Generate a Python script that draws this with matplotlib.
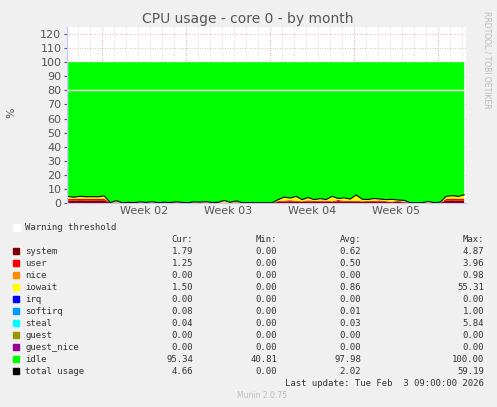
import numpy as np
import matplotlib
matplotlib.use("Agg")
import matplotlib.pyplot as plt

# data: one sample per half day, 0 .. 33 days
system = [1.8, 1.7, 1.9, 1.8, 1.7, 1.9, 1.8,
          0.1, 0.3, 0.1, 0.1, 0.2, 0.1, 0.1, 0.2, 0.1, 0.1, 0.2, 0.3, 0.1, 0.1,
          0.2, 0.1, 0.3, 0.2, 0.1, 0.2, 0.1, 0.3, 0.1, 0.2, 0.1, 0.1, 0.1, 0.1,
          0.8, 1.0, 1.2, 0.9, 0.7, 1.1, 0.8, 0.9, 1.0, 0.7, 1.3, 0.9, 0.8, 1.0,
          0.7, 0.9, 0.8, 1.1, 0.7, 0.6, 0.8, 0.5,
          0.1, 0.1, 0.1, 0.2, 0.1, 0.2,
          1.7, 1.9, 1.8, 1.8]
user = [1.3, 1.2, 1.3, 1.2, 1.3, 1.2, 1.3,
        0.1, 0.2, 0.1, 0.1, 0.1, 0.2, 0.1, 0.1, 0.1, 0.2, 0.1, 0.2, 0.1, 0.1,
        0.1, 0.2, 0.1, 0.1, 0.2, 0.1, 0.1, 0.2, 0.1, 0.1, 0.1, 0.1, 0.1, 0.1,
        0.6, 0.7, 0.8, 0.6, 0.5, 0.8, 0.6, 0.7, 0.7, 0.5, 0.9, 0.6, 0.6, 0.7,
        0.5, 0.6, 0.6, 0.8, 0.5, 0.4, 0.6, 0.4,
        0.1, 0.1, 0.1, 0.1, 0.1, 0.1,
        1.2, 1.3, 1.3, 1.2]
iowait = [1.5, 1.2, 1.6, 1.4, 1.5, 1.3, 2.0,
          0.0, 1.2, 0.0, 0.3, 0.0, 0.5, 0.2, 0.6, 0.0, 0.3, 0.0, 0.4, 0.2, 0.0,
          0.5, 0.3, 0.6, 0.0, 0.2, 1.5, 0.3, 1.0, 0.0, 0.0, 0.0, 0.0, 0.0, 0.0,
          1.0, 2.5, 1.5, 3.2, 1.2, 2.0, 1.0, 1.5, 0.8, 3.5, 1.0, 2.2, 1.4, 4.0,
          1.5, 1.0, 1.8, 0.9, 1.2, 1.6, 0.7, 1.0,
          0.0, 0.0, 0.0, 0.8, 0.0, 0.3,
          1.8, 2.0, 1.6, 2.8]
days = np.arange(len(system)) * 0.5 + 0.1

rows = [
    ("system", "#7f0000", "1.79", "0.00", "0.62", "4.87"),
    ("user", "#ff0000", "1.25", "0.00", "0.50", "3.96"),
    ("nice", "#ff8c00", "0.00", "0.00", "0.00", "0.98"),
    ("iowait", "#ffff00", "1.50", "0.00", "0.86", "55.31"),
    ("irq", "#0000ff", "0.00", "0.00", "0.00", "0.00"),
    ("softirq", "#0099ff", "0.08", "0.00", "0.01", "1.00"),
    ("steal", "#00ffff", "0.04", "0.00", "0.03", "5.84"),
    ("guest", "#999900", "0.00", "0.00", "0.00", "0.00"),
    ("guest_nice", "#990099", "0.00", "0.00", "0.00", "0.00"),
    ("idle", "#00ff00", "95.34", "40.81", "97.98", "100.00"),
    ("total usage", "#000000", "4.66", "0.00", "2.02", "59.19"),
]
week_labels = ["Week 02", "Week 03", "Week 04", "Week 05"]

W, H = 497, 407
fig = plt.figure(figsize=(W / 100, H / 100), dpi=100, facecolor="#f0f0f0")
ax = fig.add_axes([67 / W, 1 - 203 / H, 399 / W, 176 / H], facecolor="white")

sysa, usra, ioa = np.array(system), np.array(user), np.array(iowait)
total = sysa + usra + ioa
idle = 100 - total
ax.stackplot(days, sysa, usra, ioa, idle,
             colors=["#7f0000", "#ff0000", "#ffff00", "#00ff00"], linewidth=0)
ax.plot(days, total, color="black", lw=0.8)
ax.axhline(80, color="white", lw=1)

xmax = 33.25
mondays = [2.92 + 7 * k for k in range(5)]
ax.set_xlim(0, xmax)
ax.set_ylim(0, 125)
ax.set_yticks(range(0, 121, 10))
ax.set_xticks([m + 3.5 for m in mondays[:4]])
ax.set_xticklabels(week_labels)
for d in np.arange(mondays[0] - 2, xmax, 1.0):
    ax.axvline(d, color="#cccccc", lw=0.6, ls=(0, (1, 2)), zorder=0)
for m in mondays:
    ax.axvline(m, color="#e0a0a0", lw=0.6, ls=(0, (1, 2)), zorder=0)
for y in range(10, 121, 10):
    ax.axhline(y, color="#e0a0a0", lw=0.6, ls=(0, (1, 2)), zorder=0)
for s in ["top", "right"]:
    ax.spines[s].set_visible(False)
ax.spines["left"].set_color("#c0c8ff")
ax.spines["bottom"].set_color("#c0c8ff")
ax.tick_params(length=2, colors="#555555", labelsize=8, pad=2)
ax.tick_params(axis="x", length=0)
fig.text(11 / W, 1 - 113 / H, "%", rotation=90, ha="center", va="center",
         fontsize=8, color="#555555")

fig.text(248 / W, 1 - 19 / H, "CPU usage - core 0 - by month", ha="center", va="center",
         fontsize=10, color="#555555")
fig.text(487 / W, 1 - 60 / H, "RRDTOOL / TOBI OETIKER", rotation=270, ha="center",
         va="center", fontsize=5.5, color="#bbbbbb")

mono = dict(family="DejaVu Sans Mono", fontsize=6.5, color="#333333", va="center")
fig.text(25 / W, 1 - 227 / H, "Warning threshold", **mono)
fig.patches.append(plt.Rectangle((13 / W, 1 - 231 / H), 7 / W, 7 / H,
                                 transform=fig.transFigure, color="white"))
for x, t in [(193, "Cur:"), (277, "Min:"), (361, "Avg:"), (484, "Max:")]:
    fig.text(x / W, 1 - 239 / H, t, ha="right", **mono)
for i, (name, col, cur, mn, avg, mx) in enumerate(rows):
    y = 251 + 12 * i
    fig.patches.append(plt.Rectangle((13 / W, 1 - (y + 3) / H), 6 / W, 6 / H,
                                     transform=fig.transFigure, color=col))
    fig.text(25 / W, 1 - y / H, name, **mono)
    for x, t in [(193, cur), (277, mn), (361, avg), (484, mx)]:
        fig.text(x / W, 1 - y / H, t, ha="right", **mono)
fig.text(484 / W, 1 - 383 / H, "Last update: Tue Feb  3 09:00:00 2026", ha="right", **mono)
fig.text(262 / W, 1 - 396 / H, "Munin 2.0.75", ha="center", va="center",
         fontsize=5.5, color="#bbbbbb")

fig.savefig("out.png", dpi=100, facecolor=fig.get_facecolor())
